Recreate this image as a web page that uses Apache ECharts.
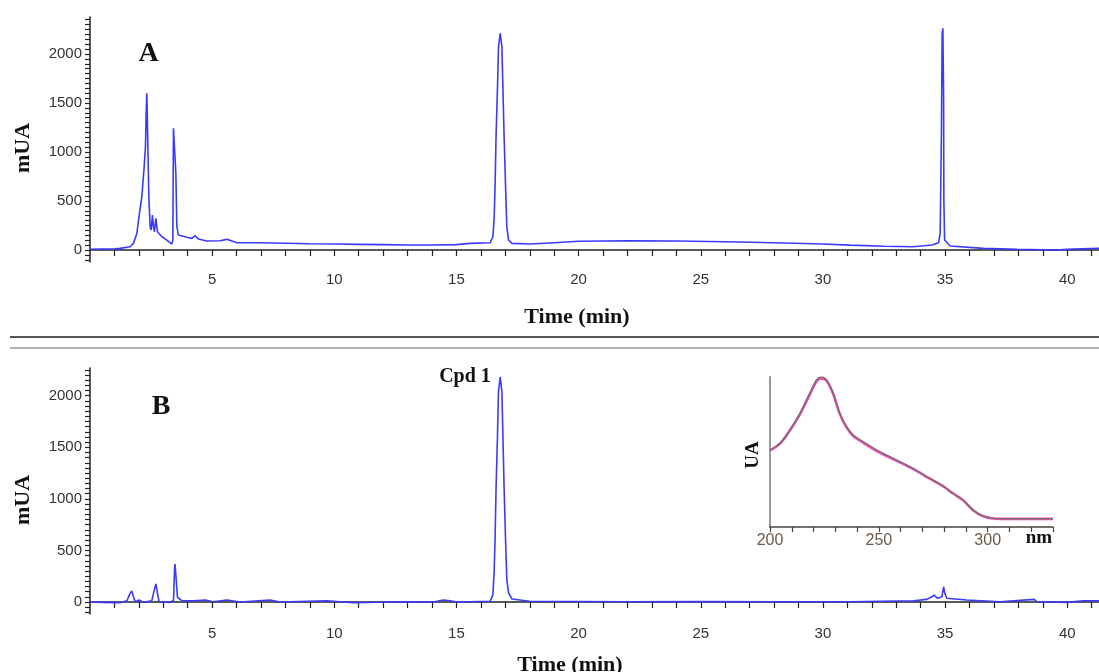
<!DOCTYPE html>
<html>
<head>
<meta charset="utf-8">
<script src="https://cdn.jsdelivr.net/npm/echarts@6/dist/echarts.min.js"></script>
<style>
html,body{margin:0;padding:0;background:#fff;}
#chart{width:1099px;height:672px;}
</style>
</head>
<body>
<div id="chart"></div>
<script>
// Panel A chromatogram (time in min, absorbance in mUA)
const timeA = [0,0.5,1.0,1.234,1.643,1.779,1.918,2.024,2.122,2.217,2.270,2.298,2.327,2.368,2.409,2.462,2.503,2.556,2.597,2.638,2.695,2.761,2.941,3.146,3.350,3.391,3.416,3.457,3.514,3.555,3.621,3.964,4.169,4.304,4.439,4.783,5.327,5.602,6.011,6.965,8.0,9.0,10.0,11.0,12.0,13.0,14.0,15.0,15.56,16.38,16.49,16.54,16.58,16.62,16.68,16.72,16.79,16.86,16.90,16.95,17.01,17.06,17.13,17.27,18.02,19,20,22,24,26,28,30,31.1,32.5,33.7,34.46,34.73,34.80,34.85,34.88,34.91,34.94,34.95,34.98,35.21,36.57,37.94,39.0,39.58,39.99,40.6,41.3];
const valA  = [8,10,12,17,34,68,170,374,544,850,1054,1395,1600,1054,544,238,204,357,238,187,323,187,136,102,61,102,1242,1224,783,238,153,130,119,146,112,92,95,109,74,74,70,64,61,58,55,52,52,55,68,74,136,306,646,1156,1666,2074,2210,2074,1666,1156,646,238,102,68,61,75,90,95,92,85,75,62,50,38,34,51,74,173,1190,2214,2262,1531,510,102,41,17,7,3,0,7,12,17];

// Panel B chromatogram
const timeB = [0,0.55,1.23,1.51,1.64,1.71,1.78,1.85,2.01,2.19,2.53,2.63,2.70,2.76,2.83,3.28,3.42,3.46,3.48,3.53,3.58,3.65,3.76,4.24,4.71,5.05,5.60,6.15,7.37,7.78,9.69,10.78,12.70,14.06,14.47,14.74,15.02,16.38,16.49,16.54,16.58,16.62,16.68,16.72,16.79,16.86,16.90,16.95,17.01,17.06,17.13,17.27,18.0,20,22,25,28,31.11,33.71,34.25,34.46,34.55,34.69,34.87,34.94,34.99,35.07,35.89,37.25,38.65,38.76,39.99,40.67,41.3];
const valB  = [0,-3,-7,13,84,107,51,3,19,-3,13,116,175,84,3,-3,19,310,368,213,46,58,13,13,19,3,19,0,19,0,13,-7,3,0,19,13,0,8,70,280,600,1100,1620,2040,2180,2040,1620,1100,600,220,90,30,8,5,3,5,3,3,13,26,51,68,36,51,148,84,36,19,3,26,3,-3,13,13];

// Inset UV spectrum of Cpd 1 (two overlaid spectra, relative units)
const nmInset  = [200,204.6,209.2,213.8,218.3,221.4,223.7,226,229,232,235.1,238.2,242.7,250.4,258,265.7,273.4,279.5,284.1,288.7,293.3,297.9,302.5,308.6,330];
const uaInset1 = [0.513,0.558,0.647,0.758,0.891,0.98,1.0,0.98,0.891,0.758,0.669,0.613,0.569,0.502,0.447,0.391,0.324,0.273,0.224,0.18,0.113,0.073,0.058,0.055,0.055];
const uaInset2 = [0.510,0.556,0.645,0.752,0.884,0.972,0.99,0.975,0.888,0.756,0.666,0.608,0.563,0.496,0.442,0.387,0.322,0.272,0.223,0.179,0.112,0.072,0.057,0.054,0.054];

// Tick labels
const timeLabels = [5,10,15,20,25,30,35,40];
const timeTicks = [1,2,3,4,5,6,7,8,9,10,11,12,13,14,15,16,17,18,19,20,21,22,23,24,25,26,27,28,29,30,31,32,33,34,35,36,37,38,39,40,41];
const mUALabels = [0,500,1000,1500,2000];
const mUATicksA = [-100,-50,0,50,100,150,200,250,300,350,400,450,500,550,600,650,700,750,800,850,900,950,1000,1050,1100,1150,1200,1250,1300,1350,1400,1450,1500,1550,1600,1650,1700,1750,1800,1850,1900,1950,2000,2050,2100,2150,2200,2250,2300,2350];
const mUATicksB = [-100,-50,0,50,100,150,200,250,300,350,400,450,500,550,600,650,700,750,800,850,900,950,1000,1050,1100,1150,1200,1250,1300,1350,1400,1450,1500,1550,1600,1650,1700,1750,1800,1850,1900,1950,2000,2050,2100,2150,2200,2250];
const nmLabels = [200,250,300];
const nmTicks = [200,210,220,230,240,250,260,270,280,290,300,310,320,330];

const zip = (a, b) => a.map((x, i) => [x, b[i]]);
const plain = v => String(v);

const axisCol = '#222';
const labelStyle = {color:'#333', fontSize:15, fontFamily:'"Liberation Sans", Arial, sans-serif', formatter:plain};
const serif = '"Liberation Serif", "Times New Roman", serif';

function timeAxis(gi, margin) {
  return {
    type:'value', gridIndex:gi, min:0, max:41.3,
    axisLine:{show:true, lineStyle:{color:axisCol, width:1.5}},
    axisTick:{show:true, length:6, inside:false, customValues:timeTicks, lineStyle:{color:axisCol, width:1.2}},
    axisLabel:Object.assign({customValues:timeLabels, margin:margin}, labelStyle),
    splitLine:{show:false}
  };
}
function mUAAxis(gi, min, max, ticks) {
  return {
    type:'value', gridIndex:gi, min:min, max:max,
    axisLine:{show:true, onZero:false, lineStyle:{color:axisCol, width:1.5}},
    axisTick:{show:true, length:5, customValues:ticks, lineStyle:{color:axisCol, width:1.2}},
    axisLabel:Object.assign({customValues:mUALabels, margin:8}, labelStyle),
    splitLine:{show:false}
  };
}

const lineCol = '#3a3aff';
const txt = (x, y, s, size, extra) => Object.assign({
  type:'text', x:x, y:y, silent:true,
  style:{text:s, font:'bold ' + size + 'px ' + serif, fill:'#111', textAlign:'center', textVerticalAlign:'middle'}
}, extra || {});

const option = {
  animation:false,
  backgroundColor:'#fff',
  grid:[
    {left:90, top:17, width:1009, height:245},
    {left:90, top:368, width:1009, height:246},
    {left:770, top:377, width:283, height:150}
  ],
  xAxis:[
    timeAxis(0, 10),
    timeAxis(1, 12),
    {
      type:'value', gridIndex:2, min:200, max:330,
      axisLine:{show:true, lineStyle:{color:'#444', width:1.5}},
      axisTick:{show:true, length:5, customValues:nmTicks, lineStyle:{color:'#444', width:1.2}},
      axisLabel:{customValues:nmLabels, margin:6, color:'#6a5a4a', fontSize:16, fontFamily:'"Liberation Sans", Arial, sans-serif', formatter:plain},
      splitLine:{show:false}
    }
  ],
  yAxis:[
    mUAAxis(0, -122, 2378, mUATicksA),
    mUAAxis(1, -116, 2269, mUATicksB),
    {
      type:'value', gridIndex:2, min:0, max:1.0,
      axisLine:{show:true, onZero:false, lineStyle:{color:'#999', width:2}},
      axisTick:{show:false}, axisLabel:{show:false}, splitLine:{show:false}
    }
  ],
  series:[
    {type:'line', xAxisIndex:0, yAxisIndex:0, data:zip(timeA, valA), showSymbol:false, lineStyle:{color:lineCol, width:1.6}},
    {type:'line', xAxisIndex:1, yAxisIndex:1, data:zip(timeB, valB), showSymbol:false, lineStyle:{color:lineCol, width:1.6}},
    {type:'line', xAxisIndex:2, yAxisIndex:2, data:zip(nmInset, uaInset2), showSymbol:false, smooth:0.3, lineStyle:{color:'#ff40d0', width:2.6}},
    {type:'line', xAxisIndex:2, yAxisIndex:2, data:zip(nmInset, uaInset1), showSymbol:false, smooth:0.3, lineStyle:{color:'#7d7466', width:1.6}}
  ],
  graphic:[
    {type:'line', shape:{x1:10, y1:337, x2:1099, y2:337}, style:{stroke:'#555', lineWidth:2}, silent:true},
    {type:'line', shape:{x1:10, y1:348, x2:1099, y2:348}, style:{stroke:'#999', lineWidth:1.5}, silent:true},
    txt(148.5, 54, 'A', 28),
    txt(161, 407, 'B', 28),
    txt(465, 377, 'Cpd 1', 20),
    txt(577, 317, 'Time (min)', 22),
    txt(570, 665, 'Time (min)', 22),
    txt(23, 148, 'mUA', 22, {rotation:Math.PI/2}),
    txt(23, 500, 'mUA', 22, {rotation:Math.PI/2}),
    txt(753, 455, 'UA', 19, {rotation:Math.PI/2}),
    txt(1039, 538, 'nm', 19)
  ]
};

const chart = echarts.init(document.getElementById('chart'), null, {renderer:'canvas'});
chart.setOption(option);
</script>
</body>
</html>
